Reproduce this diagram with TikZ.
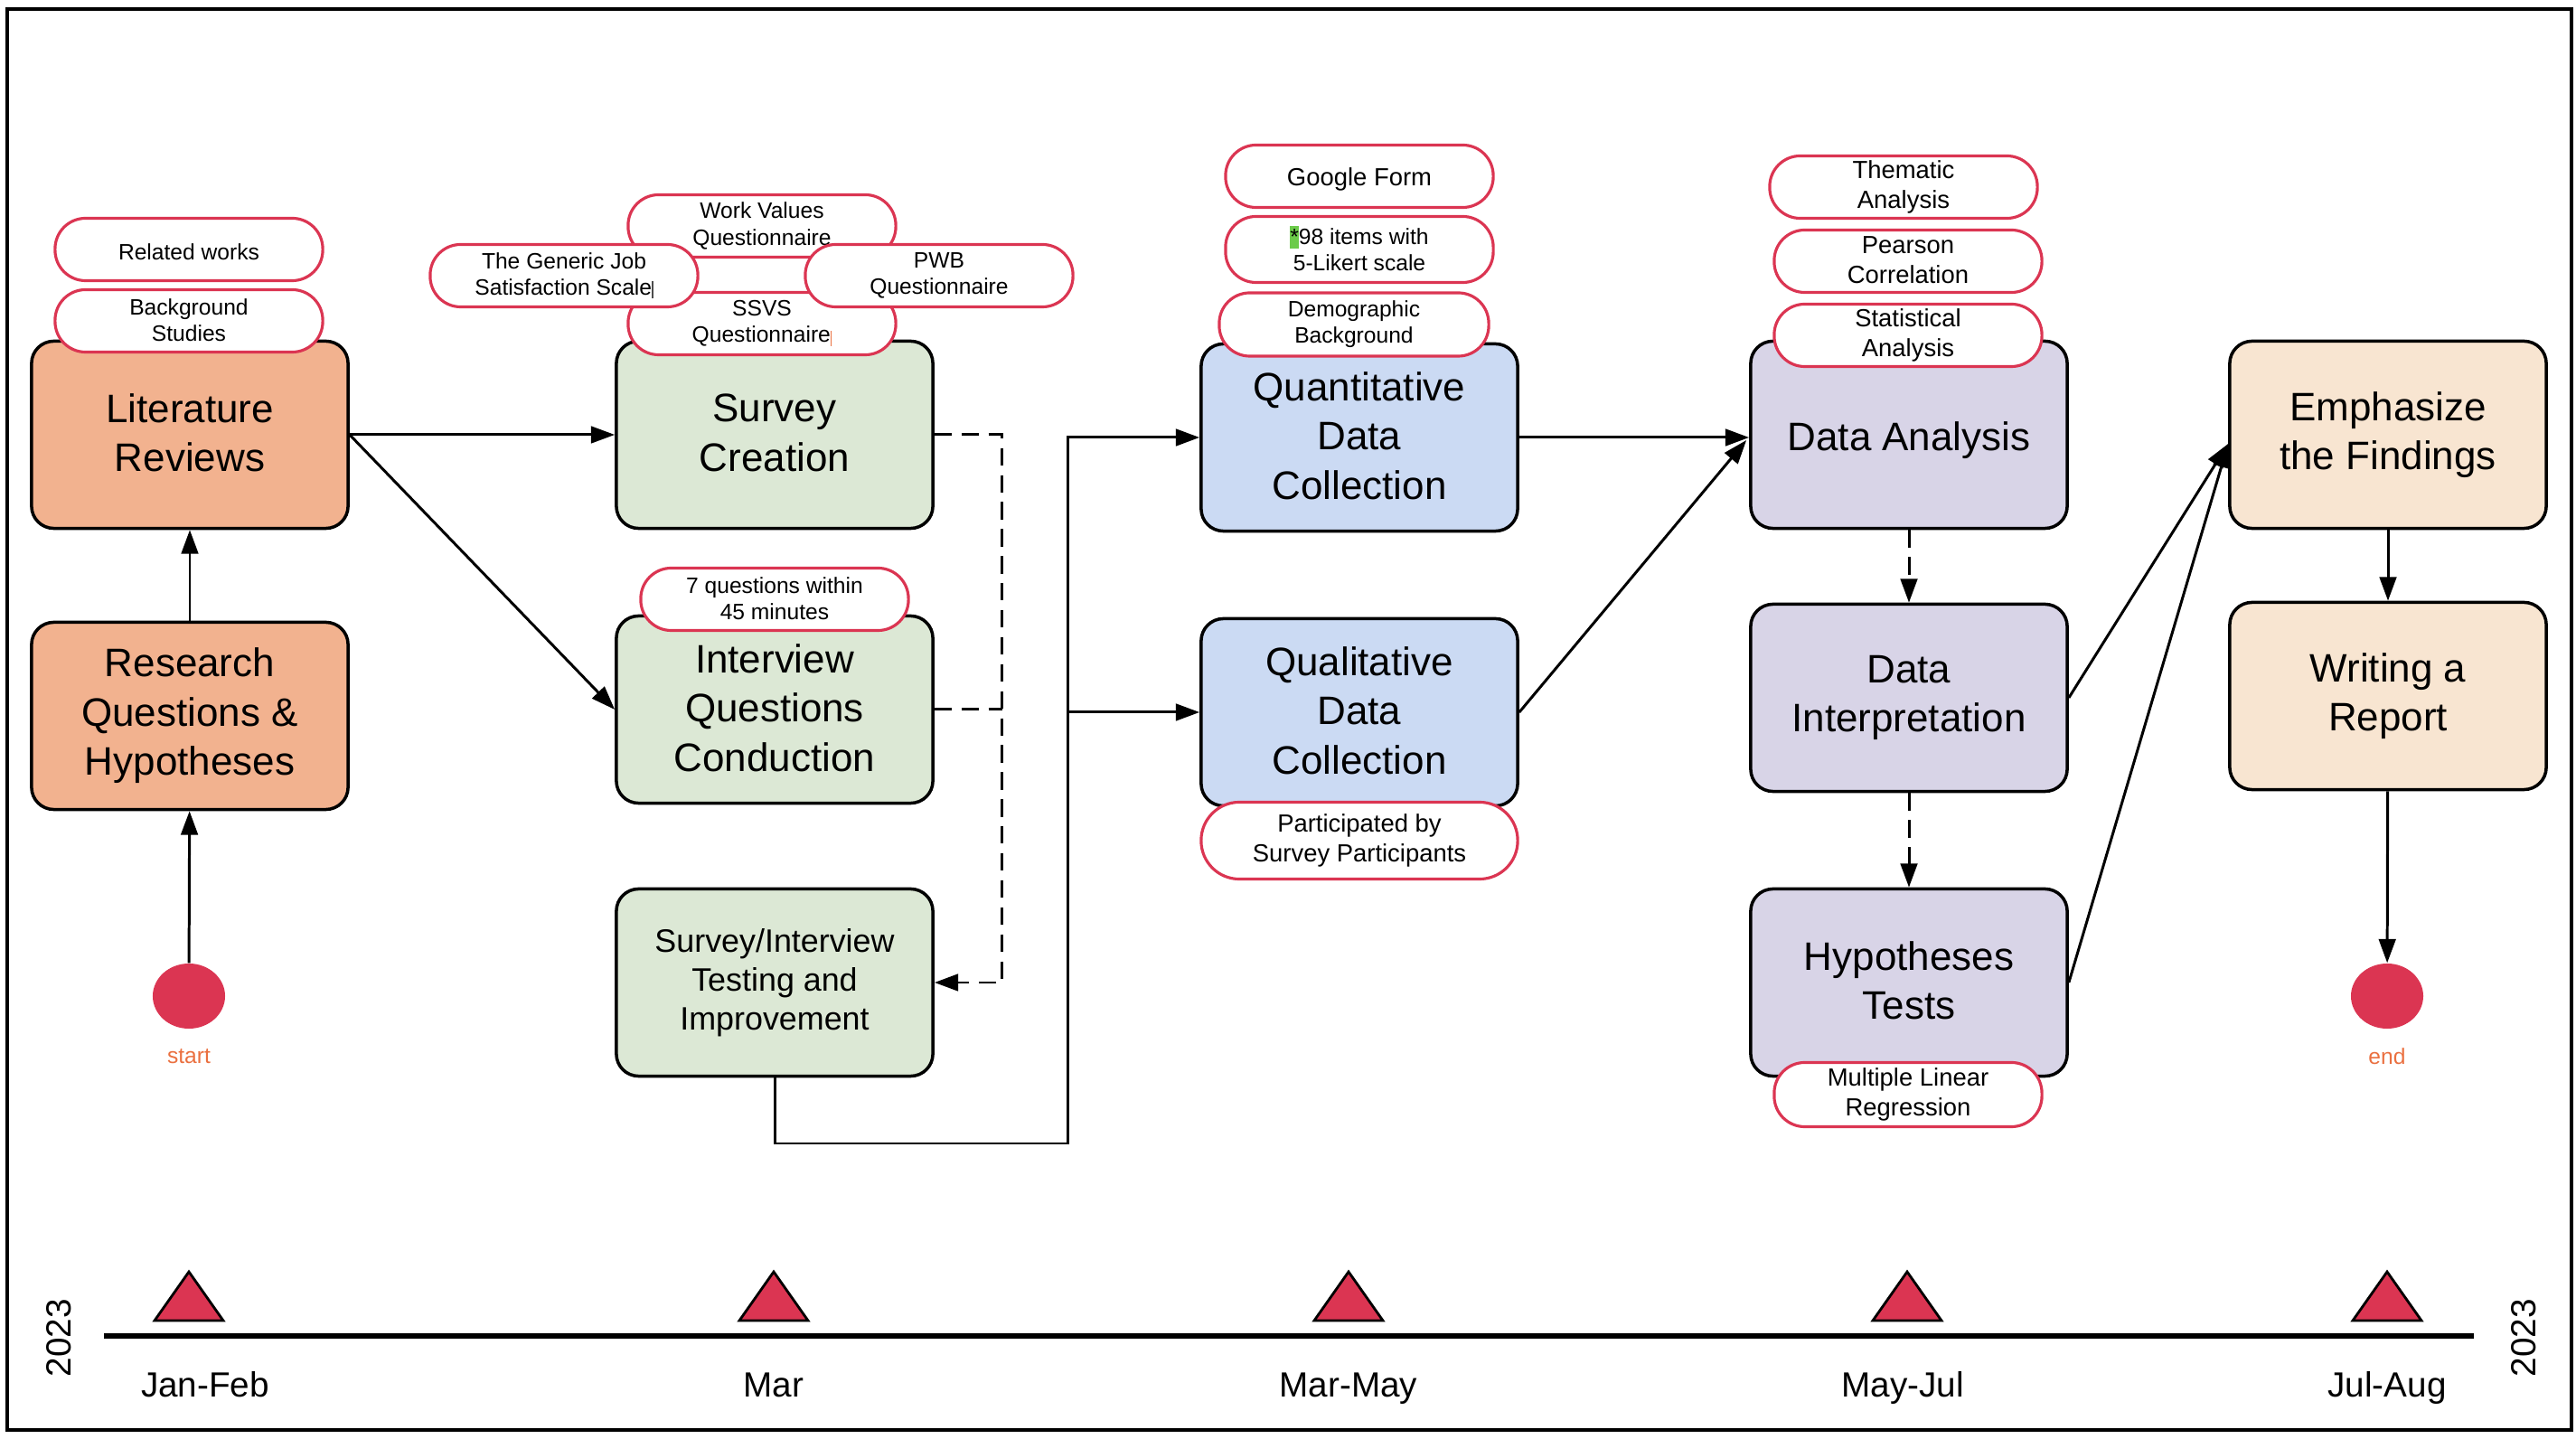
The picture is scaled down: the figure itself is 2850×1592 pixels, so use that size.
\documentclass[tikz,border=0pt]{standalone}
\usepackage{fontspec}
\setmainfont{Liberation Sans}
\usetikzlibrary{arrows.meta,calc,shapes.geometric}

\definecolor{crimson}{HTML}{DB3552}
\definecolor{salmon}{HTML}{F2B28F}
\definecolor{sage}{HTML}{DCE8D5}
\definecolor{skyblue}{HTML}{CBDAF3}
\definecolor{lilac}{HTML}{D8D4E7}
\definecolor{peach}{HTML}{F8E5D1}
\definecolor{labelorange}{HTML}{EA7040}
\definecolor{hlgreen}{HTML}{6CCB4A}

% fixed top and bottom struts so every label is centred on its cap height
\newcommand{\topstrut}{\rule{0pt}{1.0em}}
\newcommand{\botstrut}{\rule[-0.1em]{0pt}{0.1em}}

\tikzset{
  box/.style={draw=black, line width=1pt, rounded corners=7pt,
    minimum width=3.5cm, minimum height=2.07cm, align=center, inner sep=0pt,
    font=\fontsize{12.5}{15.5}\selectfont,
    execute at begin node=\topstrut, execute at end node=\botstrut},
  smallbox/.style={box, font=\fontsize{10.2}{12.2}\selectfont},
  pill/.style={draw=crimson, fill=white, line width=0.9pt, rounded corners=9.6pt,
    minimum width=2.96cm, minimum height=0.69cm, align=center, inner sep=0pt,
    font=\fontsize{7}{8.3}\selectfont,
    execute at begin node=\topstrut, execute at end node=\botstrut},
  pillm/.style={pill, font=\fontsize{7.8}{9.3}\selectfont},
  flow/.style={line width=0.85pt, -{Triangle[length=7.5pt,width=5.3pt]}},
  dflow/.style={flow, dash pattern=on 5.5pt off 3pt},
  dline/.style={line width=0.85pt, dash pattern=on 5.5pt off 3pt},
  dot/.style={ellipse, fill=crimson, draw=none, minimum width=0.8cm, minimum height=0.72cm, inner sep=0pt},
  dotlabel/.style={text=labelorange, font=\fontsize{7}{8.4}\selectfont, inner sep=0pt},
  month/.style={font=\fontsize{11}{13}\selectfont, inner sep=0pt, anchor=base},
  yearlbl/.style={font=\fontsize{11}{13}\selectfont, inner sep=0pt, rotate=90},
  marker/.style={fill=crimson, draw=black, line width=0.8pt, line join=miter},
}

\begin{document}
\begin{tikzpicture}[x=0.01cm, y=-0.01cm]
\useasboundingbox (0,0) rectangle (2850,1592);

% outer frame
\draw[line width=0.9pt] (8,10) rectangle (2845,1582);

% ---- process boxes ----
\node[box, fill=salmon] (lit) at (210,481) {Literature\\Reviews};
\node[box, fill=salmon] (rq) at (210,792) {Research\\Questions \&\\Hypotheses};

\node[box, fill=sage] (survey) at (857,481) {Survey\\Creation};
\node[box, fill=sage] (interview) at (857,785) {Interview\\Questions\\Conduction};
\node[smallbox, fill=sage] (testing) at (857,1087) {Survey/Interview\\Testing and\\Improvement};

\node[box, fill=skyblue] (quant) at (1504,484) {Quantitative\\Data\\Collection};
\node[box, fill=skyblue] (qual) at (1504,788) {Qualitative\\Data\\Collection};

\node[box, fill=lilac] (da) at (2112,481) {Data Analysis};
\node[box, fill=lilac] (di) at (2112,772) {Data\\Interpretation};
\node[box, fill=lilac] (ht) at (2112,1087) {Hypotheses\\Tests};

\node[box, fill=peach] (emph) at (2642,481) {Emphasize\\the Findings};
\node[box, fill=peach] (write) at (2642,770) {Writing a\\Report};

% ---- start / end ----
\node[dot] (start) at (209,1102) {};
\node[dotlabel] (startlbl) at (209,1169) {start};
\node[dot] (end) at (2641,1102) {};
\node[dotlabel] (endlbl) at (2641,1169) {end};

% ---- annotation pills ----
\node[pill] (related) at (209,276) {Related works};
\node[pill] (background) at (209,355) {Background\\Studies};

\node[pill] (workvalues) at (843,250) {Work Values\\Questionnaire};
\node[pill] (ssvs) at (843,358) {SSVS\\Questionnaire\textcolor{labelorange}{\rule[-0.3ex]{0.4pt}{1.3ex}}};
\node[pill] (generic) at (624,305) {The Generic Job\\Satisfaction Scale\textcolor{black!70}{\rule[-0.3ex]{0.4pt}{1.5ex}}};
\node[pill] (pwb) at (1039,305) {PWB\\Questionnaire};

\node[pill] (sevenq) at (857,663) {7 questions within\\45 minutes};

\node[pillm] (gform) at (1504,195) {Google Form};
\node[pill, minimum height=0.73cm] (items) at (1504,276)
  {{\fboxsep=0pt\colorbox{hlgreen}{\rule[-0.35ex]{0pt}{1.9ex}*}}98 items with\\5-Likert scale};
\node[pill, minimum width=2.98cm, minimum height=0.70cm] (demo) at (1498,359) {Demographic\\Background};
\node[pillm, minimum width=3.5cm, minimum height=0.85cm, rounded corners=12pt] (particip) at (1504,930)
  {Participated by\\Survey Participants};

\node[pillm] (thematic) at (2106,207) {Thematic\\Analysis};
\node[pillm] (pearson) at (2111,289) {Pearson\\Correlation};
\node[pillm] (statistical) at (2111,371) {Statistical\\Analysis};
\node[pillm, minimum height=0.71cm] (mlr) at (2111,1211) {Multiple Linear\\Regression};

% ---- connectors ----
\draw[flow] (start) -- (rq);
\draw[flow] (rq) -- (lit);
\draw[flow] (lit.east) -- (survey.west);
\draw[flow] (lit.east) -- (interview.west);

\draw[dflow] (survey.east) -- ++(75,0) |- (testing.east);
\draw[dline] (interview.east) -- ++(75,0);

\coordinate (bus) at (1181,1265);
\draw[flow] (testing.south) |- (bus) |- (quant.west);
\draw[flow] (bus |- qual.west) -- (qual.west);

\draw[flow] (quant.east) -- (quant.east -| da.west);
\draw[flow] (qual.east) -- ($(da.west)+(-3,6)$);

\draw[dflow] (da) -- (di);
\draw[dflow] (di) -- (ht);

\coordinate (emphin) at ($(emph.west)+(0,10)$);
\draw[flow] (di.east) -- (emphin);
\draw[flow] (ht.east) -- (emphin);

\draw[flow] (emph) -- (write);
\draw[flow] (write) -- (end);

% ---- timeline ----
\draw[line width=1.6pt] (115,1478) -- (2737,1478);
\foreach \mx in {209,856,1492,2110,2641}{
  \draw[marker] (\mx-38,1461) -- (\mx,1407) -- (\mx+38,1461) -- cycle;
}
\node[month] (m1) at (227,1546) {Jan-Feb};
\node[month] (m2) at (856,1546) {Mar};
\node[month] (m3) at (1492,1546) {Mar-May};
\node[month] (m4) at (2105,1546) {May-Jul};
\node[month] (m5) at (2641,1546) {Jul-Aug};
\node[yearlbl] (yl) at (65,1480) {2023};
\node[yearlbl] (yr) at (2792,1480) {2023};

\end{tikzpicture}
\end{document}
